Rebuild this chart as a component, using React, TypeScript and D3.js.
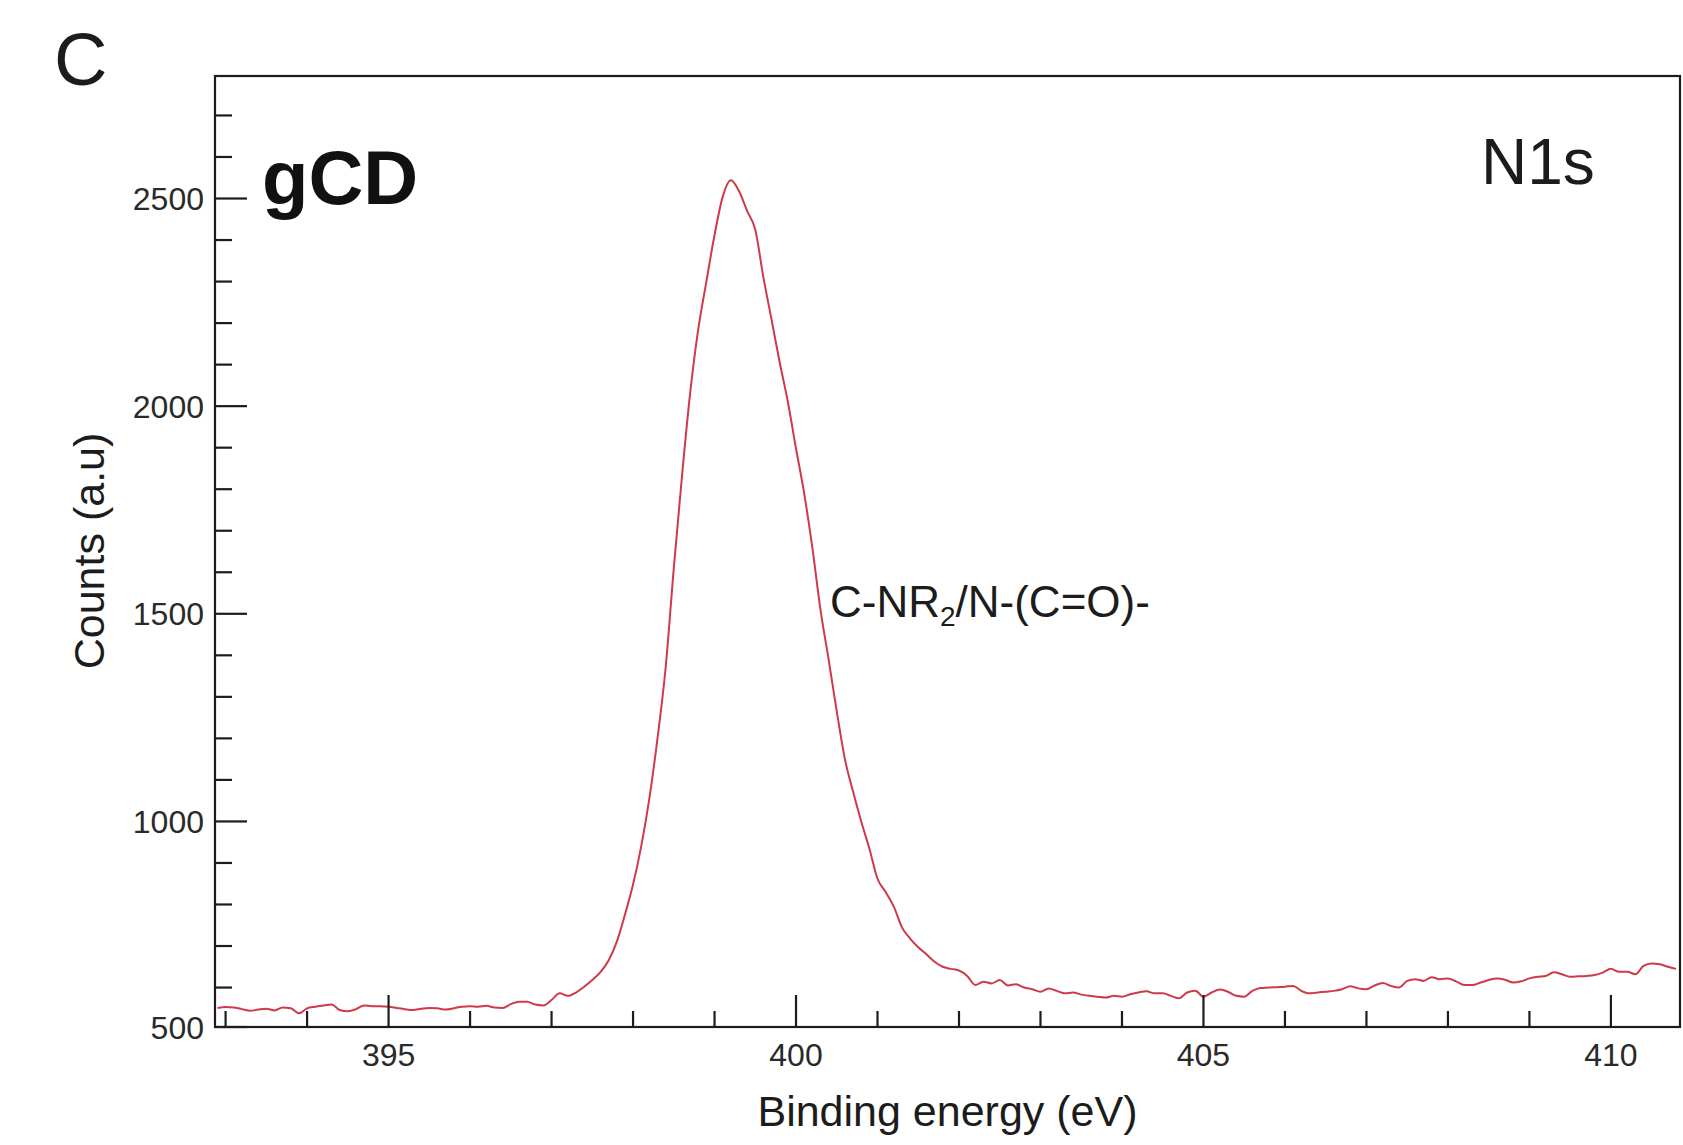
import React from "react";
import * as d3 from "d3";

const energyStart = 392.9;
const energyStep = 0.1;
const counts: number[] = [
  551, 553, 552, 548, 544, 547, 549, 545, 552, 550,
  538, 550, 554, 557, 559, 546, 543, 548, 557, 555,
  555, 554, 551, 548, 546, 549, 551, 550, 547, 550,
  554, 555, 554, 556, 552, 551, 560, 566, 566, 559,
  557, 570, 586, 580, 588, 602, 618, 637, 665, 710,
  775, 848, 940, 1055, 1200, 1370, 1610, 1830, 2030, 2185,
  2300, 2412, 2504, 2544, 2518, 2470, 2425, 2310, 2208, 2105,
  2010, 1898, 1790, 1660, 1510, 1390, 1265, 1150, 1072, 1000,
  935, 862, 830, 795, 745, 718, 697, 680, 662, 650,
  645, 641, 628, 606, 614, 610, 618, 605, 608, 600,
  596, 590, 598, 592, 586, 588, 583, 580, 578, 576,
  580, 578, 584, 588, 591, 586, 586, 580, 574, 588,
  592, 578, 588, 595, 590, 580, 578, 592, 599, 600,
  601, 602, 604, 592, 586, 588, 590, 592, 596, 603,
  598, 596, 605, 611, 604, 600, 616, 620, 616, 625,
  620, 622, 615, 606, 606, 612, 618, 622, 619, 612,
  615, 622, 626, 628, 637, 632, 626, 627, 628, 630,
  636, 645, 638, 638, 632, 652, 658, 656, 650, 645,
];
const energies: number[] = counts.map((_, i) => +(energyStart + i * energyStep).toFixed(1));

const xMajorTicks = [395, 400, 405, 410];
const xMinorTicks = [393, 394, 396, 397, 398, 399, 401, 402, 403, 404, 406, 407, 408, 409];
const yMajorTicks = [500, 1000, 1500, 2000, 2500];
const yMinorTicks = [
  600, 700, 800, 900, 1100, 1200, 1300, 1400, 1600, 1700, 1800, 1900,
  2100, 2200, 2300, 2400, 2600, 2700,
];

const panelLabel = "C";
const sampleLabel = "gCD";
const regionLabel = "N1s";
const xTitle = "Binding energy (eV)";
const yTitle = "Counts (a.u)";

const W = 1683;
const H = 1145;
const left = 215;
const right = 1681;
const top = 76;
const bottom = 1027;

export default function App() {
  const x = d3.scaleLinear().domain([392.87, 410.86]).range([left, right]);
  const y = d3.scaleLinear().domain([505, 2795]).range([bottom, top]).clamp(true);
  const line = d3
    .line<number>()
    .x((_, i) => x(energies[i]))
    .y((d) => y(d))
    .curve(d3.curveMonotoneX);
  const font = "'Liberation Sans', Arial, sans-serif";
  const ink = "#1c1c1c";
  return (
    <svg
      width={W}
      height={H}
      style={{ position: "absolute", left: 0, top: 0, background: "#fff" }}
      fontFamily={font}
    >
      <rect x={0} y={0} width={W} height={H} fill="#fff" />
      {/* curve */}
      <path d={line(counts) || ""} fill="none" stroke="#cf3a48" strokeWidth={2} strokeLinejoin="round" />
      {/* frame */}
      <rect x={left} y={top} width={right - left - 1} height={bottom - top} fill="none" stroke={ink} strokeWidth={2.2} />
      {/* y ticks */}
      {yMajorTicks.map((t) => (
        <g key={"ym" + t}>
          <line x1={left} x2={left + 32} y1={y(t)} y2={y(t)} stroke={ink} strokeWidth={2.2} />
          <text x={left - 11} y={y(t)} dy="0.36em" textAnchor="end" fontSize={32} fill="#2a2a2a">
            {t}
          </text>
        </g>
      ))}
      {yMinorTicks.map((t) => (
        <line key={"yn" + t} x1={left} x2={left + 17} y1={y(t)} y2={y(t)} stroke={ink} strokeWidth={2.2} />
      ))}
      {/* x ticks */}
      {xMajorTicks.map((t) => (
        <g key={"xm" + t}>
          <line x1={x(t)} x2={x(t)} y1={bottom} y2={bottom - 32} stroke={ink} strokeWidth={2.2} />
          <text x={x(t)} y={bottom + 39} textAnchor="middle" fontSize={32} fill="#2a2a2a">
            {t}
          </text>
        </g>
      ))}
      {xMinorTicks.map((t) => (
        <line key={"xn" + t} x1={x(t)} x2={x(t)} y1={bottom} y2={bottom - 16} stroke={ink} strokeWidth={2.2} />
      ))}
      {/* titles */}
      <text x={(760 + 1135) / 2} y={1126} textAnchor="middle" fontSize={43} fill={ink}>
        {xTitle}
      </text>
      <text
        transform={`translate(104, 551) rotate(-90)`}
        textAnchor="middle"
        fontSize={43}
        fill={ink}
      >
        {yTitle}
      </text>
      <text x={54} y={85} fontSize={74} fill={ink}>
        {panelLabel}
      </text>
      <text x={262} y={204} fontSize={76} fontWeight="bold" fill="#111">
        {sampleLabel}
      </text>
      <text x={1481} y={184} fontSize={64} fill={ink}>
        {regionLabel}
      </text>
      <text x={830} y={617} fontSize={44} fill={ink}>
        C-NR
        <tspan fontSize={28} dy={9}>2</tspan>
        <tspan dy={-9}>/N-(C=O)-</tspan>
      </text>
    </svg>
  );
}
